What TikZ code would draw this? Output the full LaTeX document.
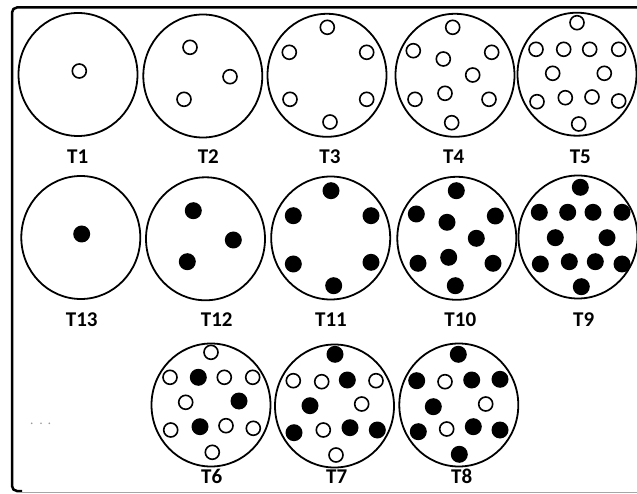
\documentclass[tikz,border=0pt]{standalone}
\usepackage{fontspec}
\setmainfont{Carlito}
\begin{document}
\begin{tikzpicture}[x=1pt,y=-1pt,
  plate/.style={draw=black, line width=1.8pt},
  hole/.style={draw=black, line width=1.6pt, fill=white},
  pin/.style={fill=black},
  lab/.style={font=\fontsize{21}{22}\selectfont\bfseries, anchor=base, inner sep=0pt}]
\useasboundingbox (0,0) rectangle (637,494);
\fill[white] (0,0) rectangle (637,494);
% frame
\draw[line width=2.5pt, rounded corners=5pt] (642,7.5) -- (12,7.5) -- (12,491) -- (22,491);
\draw[black!35, line width=1.5pt] (18,492.5) -- (642,492.5);
\foreach \x in {31.7,41,49.3} \fill[black!40] (\x,423.3) circle[radius=0.9];
% plates
\foreach \n/\cx/\cy in {1/78/74.5, 2/202.8/76, 3/327/75.3, 4/455/75.3, 5/577/74.2,
  13/80.8/237.5, 12/205.5/238.8, 11/330.7/238, 10/456.8/238.3, 9/578/237,
  6/211/405, 7/334.5/406, 8/458.8/405}
  \draw[plate] (\cx,\cy) ellipse [x radius=59.5, y radius=61.5];
% labels
\foreach \n/\x/\y in {1/77.7/163.3, 2/208.3/163.3, 3/330/163.3, 4/453.7/163.3, 5/580.3/163.3,
  13/81.7/326.7, 12/216.7/326.7, 11/331/326.7, 10/460.3/326.7, 9/583.7/326.7,
  6/211.7/483.3, 7/336.7/483.3, 8/461.7/483.3}
  \node[lab] (t\n) at (\x,\y) {T\n};
% holes (empty)
\foreach \x/\y in {
  79.3/71,
  190/47.3, 230/76.7, 184/99.3,
  327.3/27.3, 289.3/52.3, 366.7/52.3, 290/99.3, 366.7/99.3, 330/122,
  452.7/27.3, 413.3/50.7, 443.3/59, 491.7/52.3, 472.7/75, 415/99.3, 445/93.3, 489/99.3, 451.7/122.7,
  577/22.7, 536/49.3, 563.7/49.3, 589.7/49.3, 618.7/49.3, 552.7/73.3, 604.3/73.3,
  537/101.7, 565.3/97.7, 592/97, 618.7/101, 578.7/124,
  % T6
  211/352.3, 170/377.3, 224.3/377.3, 252.7/377.3, 185.7/402.3, 170.7/430, 226/425.7, 253.3/428.3, 212.3/452.3,
  % T7
  293.3/380.7, 321.7/381.7, 376/380.7, 361.7/404, 323.3/430, 336/455,
  % T8
  445/381.7, 485.7/404, 446.7/429}
  \draw[hole] (\x,\y) circle[radius=7];
% pins (filled)
\foreach \x/\y in {
  81.7/234,
  193.3/210.7, 233.3/240, 187.3/261.7,
  331/190.7, 293.3/215.7, 371/215.7, 293.3/264, 371/262.3, 333.7/285.7,
  456.3/190.7, 416.3/214, 447/222.3, 495.3/216, 476.3/238.3, 418/263.3, 448.7/257.3, 493/263.3, 455.3/285.7,
  580.3/187.3, 539.3/212.3, 567.7/212.3, 593/212.3, 622/212.3, 555.3/237.7, 607/237.7,
  540.3/264, 569.3/261.7, 595.3/261.7, 622/264, 581.3/286.7,
  % T6
  198.3/377.3, 239/401, 200/426.7,
  % T7
  335/354.3, 347.3/380, 310/405.7, 294/432.7, 350/427.7, 377.3/430,
  % T8
  458.3/354.3, 416.7/380.7, 471.7/380, 500/379.3, 433.3/406.7, 418.3/431.7, 473.3/426.7, 500/430, 459.3/454.3}
  \fill[pin] (\x,\y) circle[radius=8.5];
\end{tikzpicture}
\end{document}
